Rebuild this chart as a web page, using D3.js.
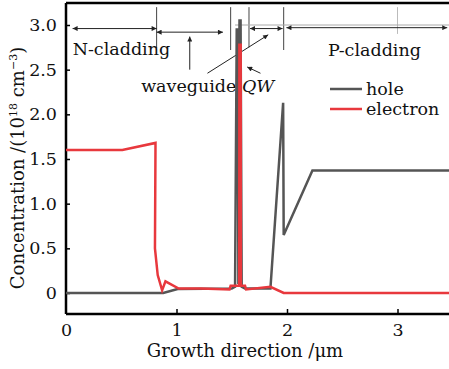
<!DOCTYPE html>
<html>
<head>
<meta charset="utf-8">
<script src="https://cdn.jsdelivr.net/npm/d3@7"></script>
<style>
  body { margin: 0; background: #fff; }
  svg { display: block; }
  text { font-family: "DejaVu Serif", serif; fill: #111; }
</style>
</head>
<body>
<svg id="chart" width="449" height="369"></svg>
<script>
// hole concentration, [position (um), value (1e18 cm^-3)]
const holeX = [0, 0.88, 1.01, 1.50, 1.53, 1.545, 1.555, 1.56, 1.57, 1.58, 1.59, 1.62, 1.85, 1.965, 1.97, 2.23, 3.7];
const holeY = [0, 0, 0.045, 0.05, 0.07, 2.95, 2.95, 0.1, 3.05, 3.05, 0.07, 0.05, 0.05, 2.13, 0.65, 1.37, 1.37];
// electron concentration
const elecX = [0, 0.51, 0.81, 0.805, 0.83, 0.87, 0.9, 1.02, 1.22, 1.48, 1.49, 1.568, 1.569, 1.581, 1.582, 1.62, 1.63, 1.85, 1.97, 3.7];
const elecY = [1.6, 1.6, 1.68, 0.5, 0.2, 0.03, 0.13, 0.05, 0.05, 0.04, 0.08, 0.08, 2.78, 2.78, 0.08, 0.08, 0.04, 0.07, 0, 0];

const xTicks = [0, 1, 2, 3];
const yTicks = [0, 0.5, 1.0, 1.5, 2.0, 2.5, 3.0];
const seriesNames = ["hole", "electron"];
const seriesColors = ["#555555", "#e8383d"];

const svg = d3.select("#chart");

//Scales fixed by reading tick positions off the picture
const x = d3.scaleLinear().domain([0, 3]).range([66, 397.5]);
const y = d3.scaleLinear().domain([0, 3]).range([293, 25]);
const xMax = 3.7, yMin = -0.235, yMax = 3.246;

//Plot frame: left, top and bottom edges
svg.append("line").attr("x1", x(0)).attr("x2", x(0)).attr("y1", y(yMax)).attr("y2", y(yMin))
    .attr("stroke", "#000").attr("stroke-width", 2.5);
svg.append("line").attr("x1", x(0)).attr("x2", x(xMax)).attr("y1", y(yMax)).attr("y2", y(yMax))
    .attr("stroke", "#000").attr("stroke-width", 2.5);
svg.append("line").attr("x1", x(0)).attr("x2", x(xMax)).attr("y1", y(yMin)).attr("y2", y(yMin))
    .attr("stroke", "#000").attr("stroke-width", 2.5);

//Axes with inward ticks
const xAxis = svg.append("g")
    .attr("transform", "translate(0," + y(yMin) + ")")
    .call(d3.axisBottom(x).tickValues(xTicks).tickSize(-5).tickPadding(10).tickFormat(d3.format("d")));
const yAxis = svg.append("g")
    .attr("transform", "translate(" + x(0) + ",0)")
    .call(d3.axisLeft(y).tickValues(yTicks).tickSize(-4).tickPadding(9)
        .tickFormat(d => d === 0 ? "0" : d3.format(".1f")(d)));
[xAxis, yAxis].forEach(a => {
    a.select(".domain").remove();
    a.selectAll(".tick line").attr("stroke", "#000").attr("stroke-width", 1.5);
    a.selectAll(".tick text").attr("font-family", "DejaVu Serif").attr("font-size", 17.5).attr("fill", "#111");
});
xAxis.selectAll(".tick").filter(d => d === 0).select("line").remove();

//Axis titles
svg.append("text").attr("x", 245).attr("y", 357).attr("text-anchor", "middle")
    .attr("font-size", 18).text("Growth direction /\u03bcm");
const yTitle = svg.append("text").attr("transform", "translate(24,168) rotate(-90)")
    .attr("text-anchor", "middle").attr("font-size", 18);
yTitle.append("tspan").text("Concentration /(10");
yTitle.append("tspan").attr("font-size", 11).attr("dy", -7).text("18");
yTitle.append("tspan").attr("dy", 7).text(" cm");
yTitle.append("tspan").attr("font-size", 11).attr("dy", -7).text("\u22123");
yTitle.append("tspan").attr("dy", 7).text(")");

//Region annotations: guide lines and arrows
const defs = svg.append("defs");
defs.append("marker").attr("id", "ah").attr("viewBox", "0 0 10 10").attr("refX", 10).attr("refY", 5)
    .attr("markerWidth", 7).attr("markerHeight", 5).attr("orient", "auto-start-reverse")
    .append("path").attr("d", "M0,0 L10,5 L0,10 Z").attr("fill", "#222");

const guides = [[0.82, 2.74, "#444"], [1.49, 2.72, "#444"], [1.656, 2.75, "#444"], [1.97, 2.72, "#444"], [3.0, 2.9, "#bbb"]];
guides.forEach(g => {
    svg.append("line").attr("x1", x(g[0])).attr("x2", x(g[0])).attr("y1", y(3.2)).attr("y2", y(g[1]))
        .attr("stroke", g[2]).attr("stroke-width", 1);
});
svg.append("line").attr("x1", x(1.53)).attr("x2", x(xMax)).attr("y1", y(3.0)).attr("y2", y(3.0))
    .attr("stroke", "#aaa").attr("stroke-width", 1);

const spans = [[0.06, 0.82, 2.96], [0.82, 1.42, 2.92], [1.665, 1.96, 2.96], [1.995, 3.45, 2.97]];
spans.forEach(s => {
    svg.append("line").attr("x1", x(s[0])).attr("x2", x(s[1])).attr("y1", y(s[2])).attr("y2", y(s[2]))
        .attr("stroke", "#222").attr("stroke-width", 1)
        .attr("marker-start", "url(#ah)").attr("marker-end", "url(#ah)");
});
const pointers = [[1.12, 2.5, 1.12, 2.87], [1.28, 2.46, 1.83, 2.89], [1.76, 2.46, 1.64, 2.53]];
pointers.forEach(p => {
    svg.append("line").attr("x1", x(p[0])).attr("x2", x(p[2])).attr("y1", y(p[1])).attr("y2", y(p[3]))
        .attr("stroke", "#222").attr("stroke-width", 1).attr("marker-end", "url(#ah)");
});

svg.append("text").attr("x", x(0.06)).attr("y", 55).attr("font-size", 17.5).text("N-cladding");
svg.append("text").attr("x", x(2.37)).attr("y", 56).attr("font-size", 17.5).text("P-cladding");
const wg = svg.append("text").attr("x", x(0.68)).attr("y", 92).attr("font-size", 17.5);
wg.append("tspan").text("waveguide ");
wg.append("tspan").attr("font-style", "italic").text("QW");

//Data lines
const line = d3.line().x(d => x(d[0])).y(d => y(d[1]));
const holeData = holeX.map((v, i) => [v, holeY[i]]);
const elecData = elecX.map((v, i) => [v, elecY[i]]);
const clip = defs.append("clipPath").attr("id", "plotClip").append("rect")
    .attr("x", x(0)).attr("y", y(yMax)).attr("width", x(xMax) - x(0)).attr("height", y(yMin) - y(yMax));
const plot = svg.append("g").attr("clip-path", "url(#plotClip)");
plot.append("path").datum(holeData).attr("fill", "none").attr("stroke", seriesColors[0])
    .attr("stroke-width", 2.5).attr("stroke-linejoin", "miter").attr("d", line);
plot.append("path").datum(elecData).attr("fill", "none").attr("stroke", seriesColors[1])
    .attr("stroke-width", 2.5).attr("stroke-linejoin", "miter").attr("d", line);

//Legend
seriesNames.forEach((name, i) => {
    const ly = 89 + i * 20;
    svg.append("line").attr("x1", 330).attr("x2", 362).attr("y1", ly).attr("y2", ly)
        .attr("stroke", seriesColors[i]).attr("stroke-width", 2.5);
    svg.append("text").attr("x", 366).attr("y", ly + 6).attr("font-size", 17.5).text(name);
});
</script>
</body>
</html>
